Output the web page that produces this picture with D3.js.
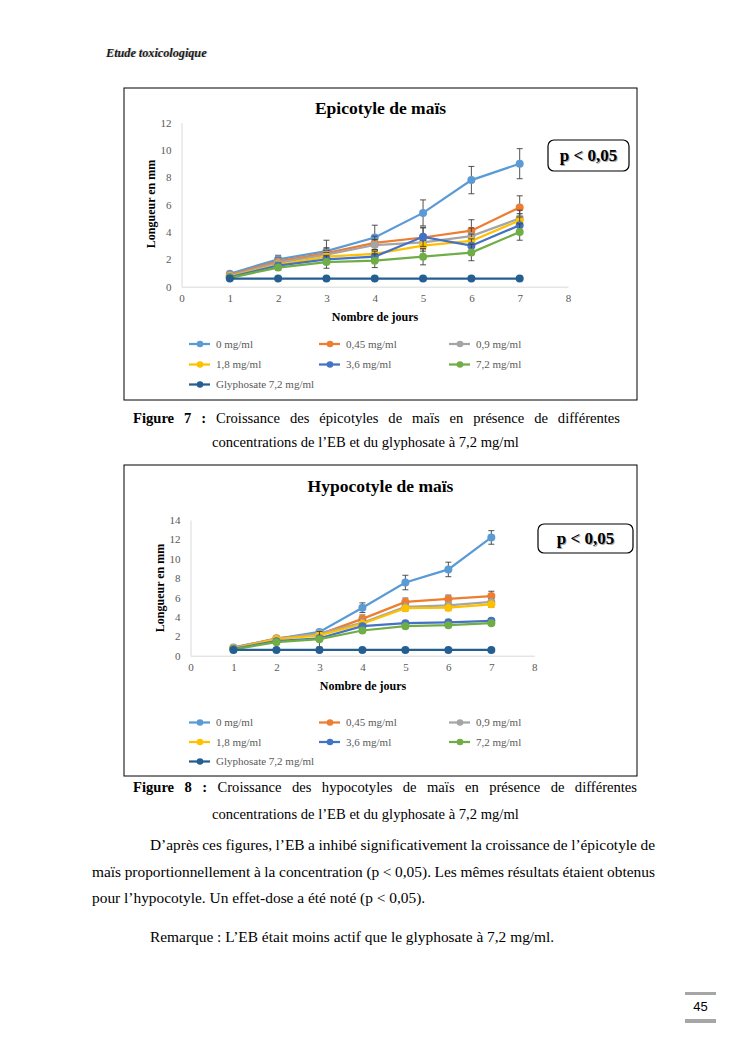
<!DOCTYPE html>
<html><head><meta charset="utf-8">
<script src="https://cdn.jsdelivr.net/npm/d3@7"></script>
<style>body{margin:0;background:#fff}svg{display:block}</style>
</head><body>
<script>
// ---------- DATA ----------
const days = [1,2,3,4,5,6,7];
const seriesNames = ["0 mg/ml","0,45 mg/ml","0,9 mg/ml","1,8 mg/ml","3,6 mg/ml","7,2 mg/ml","Glyphosate 7,2 mg/ml"];
const seriesColors = ["#5B9BD5","#ED7D31","#A5A5A5","#FFC000","#4472C4","#70AD47","#255E91"];
const xTicks = [0,1,2,3,4,5,6,7,8];

const epiTitle = "Epicotyle de maïs";
const epiYTicks = [0,2,4,6,8,10,12];
const epi0    = [0.95,2.0,2.6,3.6,5.4,7.8,9.0];
const epi045  = [0.85,1.85,2.45,3.2,3.6,4.1,5.8];
const epi09   = [0.8,1.75,2.35,3.05,3.25,3.7,5.0];
const epi18   = [0.75,1.6,2.2,2.4,3.0,3.35,4.85];
const epi36   = [0.7,1.55,2.0,2.2,3.65,3.0,4.5];
const epi72   = [0.65,1.4,1.8,1.9,2.2,2.5,4.0];
const epiGly  = [0.6,0.6,0.6,0.6,0.6,0.6,0.6];
const epiErr0   = [0.1,0.3,0.8,0.9,0.95,1.0,1.1];
const epiErr045 = [0.1,0.25,0.4,0.5,0.7,0.8,0.85];
const epiErr09  = [0.1,0.2,0.3,0.4,0.5,0.6,0.6];
const epiErr18  = [0.1,0.2,0.3,0.3,0.4,0.5,0.5];
const epiErr36  = [0.1,0.2,0.3,0.4,0.7,0.5,0.6];
const epiErr72  = [0.1,0.2,0.45,0.5,0.6,0.6,0.6];
const epiErrGly = [0,0,0,0,0,0,0];

const hypTitle = "Hypocotyle de maïs";
const hypYTicks = [0,2,4,6,8,10,12,14];
const hyp0    = [0.85,1.75,2.45,4.95,7.55,8.9,12.2];
const hyp045  = [0.8,1.8,2.2,3.8,5.55,5.85,6.15];
const hyp09   = [0.8,1.75,2.3,3.4,5.05,5.2,5.55];
const hyp18   = [0.75,1.7,2.1,3.3,4.9,4.95,5.3];
const hyp36   = [0.7,1.5,1.8,3.05,3.35,3.45,3.6];
const hyp72   = [0.65,1.4,1.7,2.6,3.05,3.15,3.35];
const hypGly  = [0.6,0.6,0.6,0.6,0.6,0.6,0.6];
const hypErr0   = [0.1,0.2,0.2,0.5,0.75,0.75,0.7];
const hypErr045 = [0.1,0.2,0.2,0.4,0.4,0.4,0.5];
const hypErr09  = [0.1,0.15,0.2,0.3,0.3,0.3,0.3];
const hypErr18  = [0.1,0.15,0.2,0.3,0.3,0.3,0.3];
const hypErr36  = [0.1,0.15,0.2,0.2,0.2,0.2,0.2];
const hypErr72  = [0.1,0.15,0.8,0.2,0.2,0.2,0.2];
const hypErrGly = [0,0,0,0,0,0,0];

const pText = "p < 0,05";
const xLabel = "Nombre de jours";
const yLabel = "Longueur en mm";

// ---------- PAGE ----------
const W = 745, H = 1053;
const svg = d3.select("body").append("svg").attr("width", W).attr("height", H);
const serif = "Liberation Serif, Times New Roman, serif";

// header
svg.append("text").attr("x",107).attr("y",57).attr("font-family",serif)
  .attr("font-style","italic").attr("font-weight","bold").attr("font-size",12.2).attr("fill","#ccc").text("Etude toxicologique");
svg.append("text").attr("x",106).attr("y",56.5).attr("font-family",serif)
  .attr("font-style","italic").attr("font-weight","bold").attr("font-size",12.2).attr("fill","#1a1a1a").text("Etude toxicologique");

function drawChart(cfg){
  const g = svg.append("g");
  g.append("rect").attr("x",cfg.box[0]).attr("y",cfg.box[1]).attr("width",cfg.box[2]).attr("height",cfg.box[3])
    .attr("fill","#fff").attr("stroke","#000").attr("stroke-width",1);
  const x = d3.scaleLinear().domain([0,8]).range(cfg.xr);
  const y = d3.scaleLinear().domain(cfg.yd).range(cfg.yr);
  // title
  g.append("text").attr("x",380.5).attr("y",cfg.titleY).attr("text-anchor","middle")
    .attr("font-family",serif).attr("font-weight","bold").attr("font-size",17.5).attr("fill","#000").text(cfg.title);
  // axes
  const xa = g.append("g").attr("transform",`translate(0,${y(0)})`)
    .call(d3.axisBottom(x).tickValues(xTicks).tickSize(0).tickPadding(8).tickFormat(d3.format("d")));
  const ya = g.append("g").attr("transform",`translate(${x(0)},0)`)
    .call(d3.axisLeft(y).tickValues(cfg.yTicks).tickSize(0).tickPadding(10).tickFormat(d3.format("d")));
  [xa,ya].forEach(a=>{
    a.select(".domain").attr("stroke","#D9D9D9").attr("stroke-width",1);
    a.selectAll("text").attr("font-family",serif).attr("font-size",11).attr("fill","#595959");
  });
  // axis titles
  g.append("text").attr("x",cfg.xLabelX).attr("y",cfg.xLabelY).attr("text-anchor","middle")
    .attr("font-family",serif).attr("font-weight","bold").attr("font-size",12).text(xLabel);
  g.append("text").attr("transform",`translate(${cfg.yLabelX},${cfg.yLabelY}) rotate(-90)`).attr("text-anchor","middle")
    .attr("font-family",serif).attr("font-weight","bold").attr("font-size",12).text(yLabel);
  // p box
  const pb = cfg.pbox;
  g.append("rect").attr("x",pb[0]).attr("y",pb[1]).attr("width",pb[2]).attr("height",pb[3]).attr("rx",6)
    .attr("fill","#fff").attr("stroke","#000").attr("stroke-width",1.2);
  g.append("text").attr("x",pb[0]+pb[2]/2+1).attr("y",pb[1]+pb[3]/2+6.5).attr("text-anchor","middle")
    .attr("font-family",serif).attr("font-weight","bold").attr("font-size",17).attr("fill","#aaa").text(pText);
  g.append("text").attr("x",pb[0]+pb[2]/2).attr("y",pb[1]+pb[3]/2+5.5).attr("text-anchor","middle")
    .attr("font-family",serif).attr("font-weight","bold").attr("font-size",17).attr("fill","#000").text(pText);
  // series
  const line = d3.line().x((d,i)=>x(days[i])).y(d=>y(d));
  cfg.series.forEach((vals,si)=>{
    const errs = cfg.errs[si];
    const eg = g.append("g");
    vals.forEach((v,i)=>{
      if(!errs[i]) return;
      const cx = x(days[i]);
      eg.append("line").attr("x1",cx).attr("x2",cx).attr("y1",y(v-errs[i])).attr("y2",y(v+errs[i])).attr("stroke","#404040").attr("stroke-width",0.9);
      [v-errs[i], v+errs[i]].forEach(e=>eg.append("line").attr("x1",cx-3).attr("x2",cx+3).attr("y1",y(e)).attr("y2",y(e)).attr("stroke","#404040").attr("stroke-width",0.9));
    });
    g.append("path").datum(vals).attr("d",line).attr("fill","none").attr("stroke",seriesColors[si]).attr("stroke-width",2.25);
    g.selectAll(null).data(vals).enter().append("circle").attr("cx",(d,i)=>x(days[i])).attr("cy",d=>y(d)).attr("r",4)
      .attr("fill",seriesColors[si]);
  });
  // legend
  const cols = [189,319,449], rows = cfg.legendRows;
  seriesNames.forEach((n,i)=>{
    const lx = cols[i%3], ly = rows[Math.floor(i/3)];
    g.append("line").attr("x1",lx).attr("x2",lx+21).attr("y1",ly).attr("y2",ly).attr("stroke",seriesColors[i]).attr("stroke-width",2.25);
    g.append("circle").attr("cx",lx+11).attr("cy",ly).attr("r",3.3).attr("fill",seriesColors[i]);
    g.append("text").attr("x",lx+27).attr("y",ly+3.8).attr("font-family",serif).attr("font-size",11).attr("fill","#595959").text(n);
  });
}

drawChart({
  box:[124,88,513,312], xr:[181.5,568], yd:[0,12], yr:[286.7,122.7], yTicks:epiYTicks,
  title:epiTitle, titleY:114, xLabelX:375, xLabelY:321, yLabelX:155, yLabelY:204,
  pbox:[548,140,81,31],
  series:[epi0,epi045,epi09,epi18,epi36,epi72,epiGly],
  errs:[epiErr0,epiErr045,epiErr09,epiErr18,epiErr36,epiErr72,epiErrGly],
  legendRows:[344,364.5,384.5]
});
drawChart({
  box:[124,465,513,311], xr:[190.5,534.3], yd:[0,14], yr:[655.7,520], yTicks:hypYTicks,
  title:hypTitle, titleY:491.5, xLabelX:363, xLabelY:690, yLabelX:164, yLabelY:588,
  pbox:[538,524,95,29],
  series:[hyp0,hyp045,hyp09,hyp18,hyp36,hyp72,hypGly],
  errs:[hypErr0,hypErr045,hypErr09,hypErr18,hypErr36,hypErr72,hypErrGly],
  legendRows:[722.5,742,761.5]
});

// justified text helper
function justify(words, x0, x1, yb, size, boldCount){
  const g = svg.append("g");
  const els = words.map((w,i)=>g.append("text").attr("y",yb).attr("font-family",serif).attr("font-size",size)
    .attr("font-weight", i<boldCount?"bold":"normal").attr("fill","#000").text(w));
  const widths = els.map(e=>e.node().getComputedTextLength());
  const total = d3.sum(widths);
  const gap = (x1-x0-total)/(words.length-1);
  let cx = x0;
  els.forEach((e,i)=>{ e.attr("x",cx); cx += widths[i]+gap; });
}
function plain(t,x,yb,size){
  svg.append("text").attr("x",x).attr("y",yb).attr("font-family",serif).attr("font-size",size).attr("fill","#000").text(t);
}
const fs = 14.6, bs = 15.4;
justify("Figure 7 : Croissance des épicotyles de maïs en présence de différentes".split(" "),133,620,423,fs,3);
plain("concentrations de l’EB et du glyphosate à 7,2 mg/ml",212,446.5,fs);
justify("Figure 8 : Croissance des hypocotyles de maïs en présence de différentes".split(" "),133,637,792,fs,3);
plain("concentrations de l’EB et du glyphosate à 7,2 mg/ml",212,819,fs);

justify("D’après ces figures, l’EB a inhibé significativement la croissance de l’épicotyle de".split(" "),150,655,850,bs,0);
justify("maïs proportionnellement à la concentration (p < 0,05). Les mêmes résultats étaient obtenus".split(" "),92,655,877,bs,0);
plain("pour l’hypocotyle. Un effet-dose a été noté (p < 0,05).",92,903,bs);
plain("Remarque : L’EB était moins actif que le glyphosate à 7,2 mg/ml.",150,942,bs);

// page number
svg.append("rect").attr("x",685).attr("y",992).attr("width",31).attr("height",3).attr("fill","#a6a6a6");
svg.append("rect").attr("x",685).attr("y",1019).attr("width",31).attr("height",4).attr("fill","#a6a6a6");
svg.append("text").attr("x",700.5).attr("y",1011).attr("text-anchor","middle").attr("font-family","Liberation Sans, Arial, sans-serif")
  .attr("font-size",13).attr("fill","#000").text("45");
</script>
</body></html>
